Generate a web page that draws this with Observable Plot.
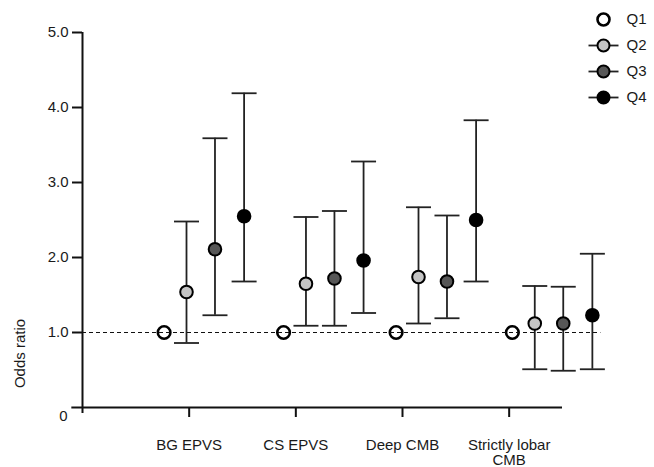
<!DOCTYPE html>
<html>
<head>
<meta charset="utf-8">
<script src="https://cdn.jsdelivr.net/npm/d3@7"></script>
<script src="https://cdn.jsdelivr.net/npm/@observablehq/plot@0.6"></script>
<style>
  html, body { margin: 0; padding: 0; background: #fff; }
  #wrap { position: relative; width: 654px; height: 467px; overflow: hidden; }
  #legend { position: absolute; left: 588px; top: 0; }
</style>
</head>
<body>
<div id="wrap"><div id="chart"></div><div id="legend"></div></div>
<script>
// ---- data ----
const categories = ["BG EPVS", "CS EPVS", "Deep CMB", "Strictly lobar\nCMB"];
const groupPos = [1.125, 2.245, 3.30, 4.39];      // group centres on the x scale
const quartiles = ["Q1", "Q2", "Q3", "Q4"];
const quartileOffset = [-0.36, -0.15, 0.117, 0.39];
const quartileFill = ["#ffffff", "#c4c4c4", "#575757", "#000000"];

const orQ1 = [1, 1, 1, 1];
const orQ2 = [1.54, 1.65, 1.74, 1.12];
const loQ2 = [0.86, 1.09, 1.12, 0.51];
const hiQ2 = [2.48, 2.54, 2.67, 1.62];
const orQ3 = [2.11, 1.72, 1.68, 1.12];
const loQ3 = [1.23, 1.09, 1.19, 0.49];
const hiQ3 = [3.59, 2.62, 2.56, 1.61];
const orQ4 = [2.55, 1.96, 2.50, 1.23];
const loQ4 = [1.68, 1.26, 1.68, 0.51];
const hiQ4 = [4.19, 3.28, 3.83, 2.05];

const yTicks = [1, 2, 3, 4, 5];
const xTicks = [1, 2, 3, 4];
const referenceOR = 1;

// ---- build table ----
const series = [
  {or: orQ1, lo: null, hi: null},
  {or: orQ2, lo: loQ2, hi: hiQ2},
  {or: orQ3, lo: loQ3, hi: hiQ3},
  {or: orQ4, lo: loQ4, hi: hiQ4}
];
const rows = [];
series.forEach((s, j) => {
  categories.forEach((c, i) => {
    rows.push({
      cat: c, q: quartiles[j], qi: j,
      x: groupPos[i] + quartileOffset[j],
      or: s.or[i],
      lo: s.lo ? s.lo[i] : null,
      hi: s.hi ? s.hi[i] : null
    });
  });
});
const ci = rows.filter(d => d.lo != null);

const capSymbol = {
  draw(ctx) { ctx.moveTo(-12.5, 0); ctx.lineTo(12.5, 0); }
};
const legendLine = {
  draw(ctx) { ctx.moveTo(-15, 0); ctx.lineTo(15, 0); }
};

const font = "'Liberation Sans', Arial, Helvetica, sans-serif";

const chart = Plot.plot({
  width: 654,
  height: 467,
  marginLeft: 82,
  marginRight: 92,
  marginTop: 32,
  marginBottom: 60,
  style: {fontFamily: font, fontSize: "15px", color: "#1a1a1a", background: "transparent", overflow: "visible"},
  x: {domain: [0, 4.5], axis: null},
  y: {domain: [0, 5], axis: null},
  color: {type: "identity"},
  marks: [
    Plot.axisY({ticks: yTicks, tickFormat: d => d.toFixed(1), tickSize: 10, tickPadding: 4,
      strokeWidth: 2, stroke: "#111", label: null, fontSize: 15}),
    Plot.text([0], {y: d => d, text: d => String(d), frameAnchor: "left", dx: -15, dy: 9,
      textAnchor: "end", fontSize: 15, fill: "#1a1a1a"}),
    Plot.axisX({ticks: xTicks, tickFormat: d => categories[d - 1], tickSize: 10, tickPadding: 21,
      strokeWidth: 2, stroke: "#111", label: null, fontSize: 15, lineHeight: 1.05}),
    Plot.ruleX([0], {y1: -0.08, y2: 5, stroke: "#111", strokeWidth: 2}),
    Plot.ruleY([0], {x1: -0.1, x2: 4.5, stroke: "#111", strokeWidth: 2}),
    Plot.text(["Odds ratio"], {frameAnchor: "left", y: () => 0.72, dx: -62, rotate: -90,
      textAnchor: "middle", fontSize: 15, fill: "#1a1a1a"}),
    // CI whiskers
    Plot.ruleX(ci, {x: "x", y1: "lo", y2: "hi", stroke: "#222", strokeWidth: 1.8}),
    Plot.dot(ci, {x: "x", y: "lo", symbol: capSymbol, stroke: "#222", strokeWidth: 1.8, fill: "none"}),
    Plot.dot(ci, {x: "x", y: "hi", symbol: capSymbol, stroke: "#222", strokeWidth: 1.8, fill: "none"}),
    // points
    Plot.dot(rows, {x: "x", y: "or", r: 6.3, fill: d => quartileFill[d.qi], stroke: "#000",
      strokeWidth: d => d.qi === 0 ? 2.6 : 2}),
    // reference line
    Plot.ruleY([referenceOR], {x1: 0, x2: 4.86, stroke: "#111", strokeWidth: 1, strokeDasharray: "4,3"})
  ]
});
document.getElementById("chart").appendChild(chart);

const legend = Plot.plot({
  width: 66,
  height: 112,
  marginLeft: 0,
  marginRight: 36,
  marginTop: 18,
  marginBottom: 14,
  style: {fontFamily: font, fontSize: "15px", color: "#1a1a1a", background: "transparent", overflow: "visible"},
  x: {axis: null},
  y: {type: "point", domain: quartiles, padding: 0, axis: null},
  color: {type: "identity"},
  marks: [
    Plot.dot(quartiles.slice(1), {y: d => d, frameAnchor: "middle", symbol: legendLine, stroke: "#222", strokeWidth: 1.8, fill: "none"}),
    Plot.dot(quartiles, {y: d => d, frameAnchor: "middle", r: 6, fill: (d, i) => quartileFill[i], stroke: "#000",
      strokeWidth: (d, i) => i === 0 ? 2.6 : 2}),
    Plot.text(quartiles, {y: d => d, text: d => d, frameAnchor: "right", dx: 8, textAnchor: "start", fontSize: 15, fill: "#1a1a1a"})
  ]
});
document.getElementById("legend").appendChild(legend);
</script>
</body>
</html>
